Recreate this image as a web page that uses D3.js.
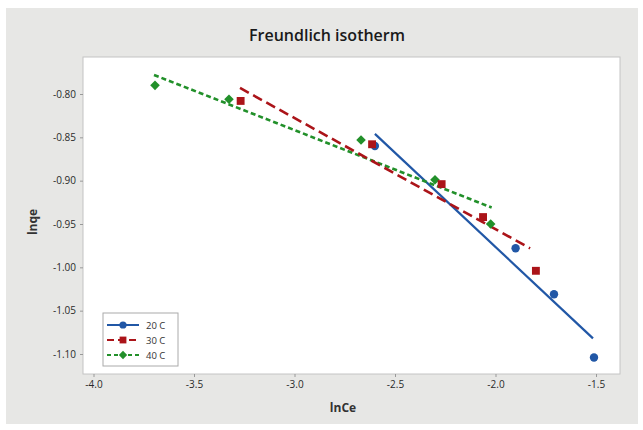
<!DOCTYPE html>
<head>
  <meta charset="utf-8">
  <script src="https://d3js.org/d3.v7.min.js"></script>
  <style>
    body { margin: 0; background: #fff; }
    * { font-family: "Open Sans", "Noto Sans", sans-serif; }
  </style>
</head>
<body>
  <div id="chart"></div>
  <script>
    // series
    var series20x = [-2.600, -1.900, -1.709, -1.510];
    var series20y = [-0.860, -0.978, -1.031, -1.104];
    var series30x = [-3.268, -2.614, -2.268, -2.062, -1.799];
    var series30y = [-0.808, -0.858, -0.904, -0.942, -1.004];
    var series40x = [-3.694, -3.326, -2.669, -2.301, -2.024];
    var series40y = [-0.790, -0.806, -0.853, -0.899, -0.950];

    // fitted lines, endpoints [x0, x1] / [y0, y1]
    var fit20x = [-2.600, -1.515], fit20y = [-0.846, -1.082];
    var fit30x = [-3.271, -1.828], fit30y = [-0.793, -0.978];
    var fit40x = [-3.699, -2.019], fit40y = [-0.778, -0.931];

    var xTicks = [-4.0, -3.5, -3.0, -2.5, -2.0, -1.5];
    var yTicks = [-0.80, -0.85, -0.90, -0.95, -1.00, -1.05, -1.10];
    var legendLabels = ["20 C", "30 C", "40 C"];

    var width = 643, height = 430;
    var plot = {left: 83, right: 620, top: 57, bottom: 374};

    var svg = d3.select("#chart").append("svg")
      .attr("width", width).attr("height", height);

    svg.append("rect")
      .attr("x", 6).attr("y", 8).attr("width", 632).attr("height", 416)
      .attr("fill", "#e7e7e5");

    svg.append("rect")
      .attr("x", plot.left).attr("y", plot.top)
      .attr("width", plot.right - plot.left).attr("height", plot.bottom - plot.top)
      .attr("fill", "#fff").attr("stroke", "#c4c4c4").attr("stroke-width", 1);

    var x = d3.scaleLinear().domain([-4.0, -1.5]).range([93.5, 596]);
    var y = d3.scaleLinear().domain([-0.80, -1.10]).range([94, 354]);

    // hyphen instead of unicode minus, like the original
    function fmt(p) {
      var f = d3.format("." + p + "f");
      return function(d) { return f(d).replace("\u2212", "-"); };
    }

    var xAxis = svg.append("g")
      .attr("transform", "translate(0," + plot.bottom + ")")
      .call(d3.axisBottom(x).tickValues(xTicks).tickFormat(fmt(1)).tickSize(3).tickPadding(4));
    var yAxis = svg.append("g")
      .attr("transform", "translate(" + plot.left + ",0)")
      .call(d3.axisLeft(y).tickValues(yTicks).tickFormat(fmt(2)).tickSize(3).tickPadding(4));

    [xAxis, yAxis].forEach(function(a) {
      a.select(".domain").remove();
      a.selectAll("line").attr("stroke", "#999");
      a.selectAll("text").attr("fill", "#2a2a2a").style("font-size", "10px");
    });

    svg.append("text")
      .attr("x", 327).attr("y", 41).attr("text-anchor", "middle")
      .attr("fill", "#1a1a1a").style("font-size", "16px").style("font-weight", "600")
      .text("Freundlich isotherm");

    svg.append("text")
      .attr("x", 343).attr("y", 412).attr("text-anchor", "middle")
      .attr("fill", "#333").style("font-size", "12px").style("font-weight", "bold")
      .text("lnCe");

    svg.append("text")
      .attr("transform", "translate(37,222) rotate(-90)")
      .attr("text-anchor", "middle")
      .attr("fill", "#333").style("font-size", "12px").style("font-weight", "bold")
      .text("lnqe");

    var groups = [
      {px: series20x, py: series20y, fx: fit20x, fy: fit20y, color: "#2157a6", dash: null, shape: d3.symbolCircle, size: 55, rot: 0},
      {px: series40x, py: series40y, fx: fit40x, fy: fit40y, color: "#22902a", dash: "5,3", shape: d3.symbolSquare, size: 46, rot: 45},
      {px: series30x, py: series30y, fx: fit30x, fy: fit30y, color: "#ab1419", dash: "10,5", shape: d3.symbolSquare, size: 62, rot: 0}
    ];

    var line = d3.line().x(function(d) { return x(d[0]); }).y(function(d) { return y(d[1]); });

    groups.forEach(function(g) {
      svg.append("path")
        .datum(d3.zip(g.fx, g.fy))
        .attr("d", line)
        .attr("fill", "none").attr("stroke", g.color)
        .attr("stroke-width", g.dash ? 2.6 : 2.2)
        .attr("stroke-dasharray", g.dash);
    });

    groups.forEach(function(g) {
      svg.selectAll(null)
        .data(d3.zip(g.px, g.py))
        .enter().append("path")
        .attr("transform", function(d) { return "translate(" + x(d[0]) + "," + y(d[1]) + ") rotate(" + g.rot + ")"; })
        .attr("d", d3.symbol().type(g.shape).size(g.size))
        .attr("fill", g.color);
    });

    // legend
    var legend = svg.append("g");
    legend.append("rect")
      .attr("x", 103).attr("y", 313).attr("width", 75).attr("height", 53)
      .attr("fill", "#fff").attr("stroke", "#aaa");
    var legendOrder = [groups[0], groups[2], groups[1]];
    legendOrder.forEach(function(g, i) {
      var ly = 325 + i * 15;
      legend.append("line")
        .attr("x1", 107).attr("x2", 139).attr("y1", ly).attr("y2", ly)
        .attr("stroke", g.color).attr("stroke-width", 2)
        .attr("stroke-dasharray", g.dash ? (i === 1 ? "7,4" : "4,3") : null);
      legend.append("path")
        .attr("transform", "translate(123," + ly + ") rotate(" + g.rot + ")")
        .attr("d", d3.symbol().type(g.shape).size(g.size * 0.75))
        .attr("fill", g.color);
      legend.append("text")
        .attr("x", 146).attr("y", ly + 3.5)
        .attr("fill", "#333").style("font-size", "9.5px")
        .text(legendLabels[i]);
    });
  </script>
</body>
